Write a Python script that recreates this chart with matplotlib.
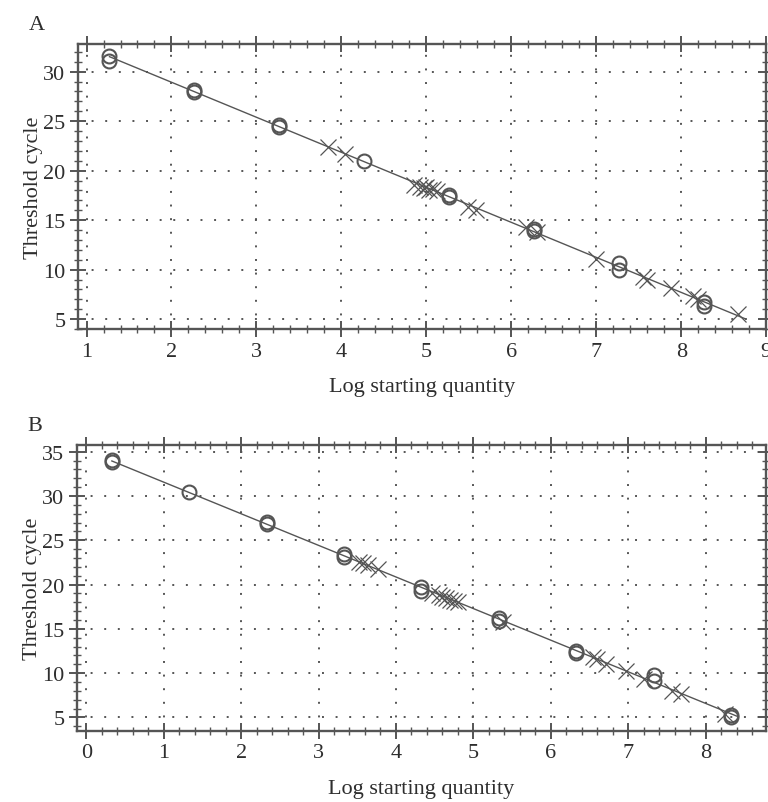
import matplotlib
matplotlib.use("Agg")
import matplotlib.pyplot as plt
import numpy as np
from matplotlib.ticker import MultipleLocator

plt.rcParams['font.family'] = ['Liberation Serif', 'DejaVu Serif']

# --- Panel A data ---
a_std_x = [1.27, 1.27, 2.27, 2.27, 3.27, 3.27, 4.27, 5.27, 5.27, 6.27, 6.27, 7.27, 7.27, 8.27, 8.27]
a_std_y = [31.1, 31.6, 27.9, 28.1, 24.4, 24.6, 21.0, 17.3, 17.5, 13.9, 14.1, 10.0, 10.7, 6.3, 6.7]
a_unk_x = [3.84, 4.04, 4.86, 4.93, 4.97, 5.0, 5.03, 5.08, 5.12, 5.49, 5.58, 6.17, 6.3,
           7.0, 7.55, 7.6, 7.88, 8.14, 8.2, 8.67]
a_unk_y = [22.4, 21.7, 18.6, 18.4, 18.2, 18.3, 18.0, 18.1, 17.9, 16.3, 16.0, 14.3, 13.8,
           11.1, 9.3, 9.0, 8.1, 7.3, 7.0, 5.5]

# --- Panel B data ---
b_std_x = [0.33, 0.33, 1.33, 2.33, 2.33, 3.33, 3.33, 4.33, 4.33, 5.33, 5.33, 6.33, 6.33, 7.33, 7.33, 8.33, 8.33]
b_std_y = [34.1, 33.8, 30.4, 27.1, 26.8, 23.4, 23.1, 19.7, 19.3, 16.2, 15.9, 12.5, 12.3, 9.8, 9.1, 5.3, 5.1]
b_unk_x = [3.52, 3.58, 3.64, 3.77, 4.47, 4.55, 4.6, 4.65, 4.7, 4.75, 4.8, 5.38,
           6.55, 6.6, 6.71, 6.97, 7.2, 7.57, 7.68, 8.25]
b_unk_y = [22.6, 22.4, 22.2, 21.8, 19.0, 18.8, 18.6, 18.5, 18.3, 18.2, 18.0, 15.8,
           11.8, 11.6, 11.0, 10.2, 9.3, 8.0, 7.7, 5.4]

gray = '#555555'
txt = '#2e2e2e'


def draw_panel(ax, sx, sy, ux, uy, xlim, ylim, letter):
    # regression line through the standards, over the full data range
    slope, icpt = np.polyfit(sx, sy, 1)
    xs = np.array([min(sx + ux), max(sx + ux) + 0.08])
    ax.plot(xs, icpt + slope * xs, color=gray, lw=1.0, zorder=2)
    ax.plot(ux, uy, 'x', ms=12, mew=0.9, color=gray, zorder=3)
    ax.plot(sx, sy, 'o', ms=10, mfc='none', mec=gray, mew=1.5, zorder=4)

    ax.set_xlim(*xlim)
    ax.set_ylim(*ylim)
    ax.xaxis.set_major_locator(MultipleLocator(1))
    ax.xaxis.set_minor_locator(MultipleLocator(0.2))
    ax.yaxis.set_major_locator(MultipleLocator(5))
    ax.yaxis.set_minor_locator(MultipleLocator(1))
    ax.grid(True, which='major', linestyle=(0, (1, 6)), color=gray, lw=1.4)
    ax.tick_params(which='both', direction='inout', top=True, right=True,
                   colors=gray, labelcolor=txt, labelsize=16)
    ax.tick_params(which='major', length=11, width=1.4)
    ax.tick_params(which='minor', length=6, width=1.0)
    for s in ax.spines.values():
        s.set_color(gray)
        s.set_linewidth(1.7)
    ax.set_xlabel("Log starting quantity", fontsize=16, color=txt, labelpad=12)
    ax.set_ylabel("Threshold cycle", fontsize=16, color=txt, labelpad=0)
    ax.text(-0.072, 1.035, letter, transform=ax.transAxes, fontsize=16, color=txt,
            ha='left', va='bottom')


fig = plt.figure(figsize=(7.68, 8.03), dpi=100)
ax1 = fig.add_axes([0.1016, 0.589, 0.896, 0.355])
ax2 = fig.add_axes([0.1003, 0.0888, 0.897, 0.3562])

draw_panel(ax1, a_std_x, a_std_y, a_unk_x, a_unk_y, (0.9, 9.0), (4.0, 32.8), "A")
draw_panel(ax2, b_std_x, b_std_y, b_unk_x, b_unk_y, (-0.12, 8.78), (3.5, 35.8), "B")

fig.savefig("out.png", dpi=100)
